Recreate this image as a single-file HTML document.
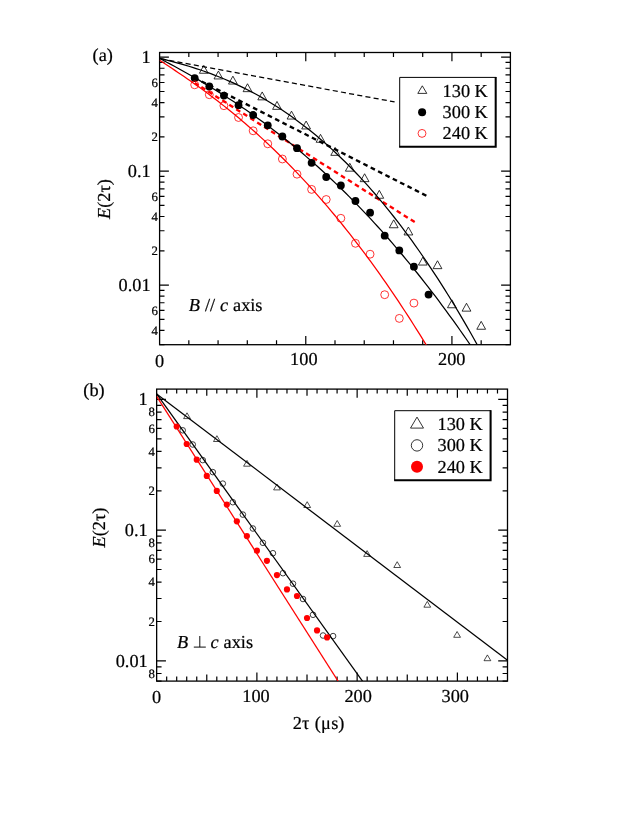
<!DOCTYPE html>
<html><head><meta charset="utf-8"><title>Figure</title>
<style>
html,body{margin:0;padding:0;background:#fff;}
body{width:631px;height:817px;overflow:hidden;}
svg{display:block;will-change:transform;}
text{font-family:"Liberation Serif",serif;fill:#000;text-rendering:geometricPrecision;stroke:#000;stroke-width:0.22px;}
</style></head><body>
<svg width="631" height="817" viewBox="0 0 631 817">
<rect width="631" height="817" fill="#fff"/>
<clipPath id="ca"><rect x="159.6" y="52.5" width="350.79999999999995" height="292.2"/></clipPath>
<clipPath id="cb"><rect x="156.65" y="389.1" width="350.85" height="292.0"/></clipPath>
<rect x="159.60" y="52.50" width="350.80" height="292.20" fill="none" stroke="#000" stroke-width="1.3"/>
<path d="M188.83 344.70v-4.5M188.83 52.50v4.5M218.07 344.70v-4.5M218.07 52.50v4.5M247.30 344.70v-4.5M247.30 52.50v4.5M276.53 344.70v-4.5M276.53 52.50v4.5M305.77 344.70v-8.7M305.77 52.50v8.7M335.00 344.70v-4.5M335.00 52.50v4.5M364.23 344.70v-4.5M364.23 52.50v4.5M393.47 344.70v-4.5M393.47 52.50v4.5M422.70 344.70v-4.5M422.70 52.50v4.5M451.93 344.70v-8.7M451.93 52.50v8.7M481.17 344.70v-4.5M481.17 52.50v4.5M159.60 57.22h9.3M510.40 57.22h-9.3M159.60 171.17h9.3M510.40 171.17h-9.3M159.60 136.86h4.9M510.40 136.86h-4.9M159.60 116.80h4.9M510.40 116.80h-4.9M159.60 102.56h4.9M510.40 102.56h-4.9M159.60 91.52h4.9M510.40 91.52h-4.9M159.60 82.50h4.9M510.40 82.50h-4.9M159.60 74.87h4.9M510.40 74.87h-4.9M159.60 68.26h4.9M510.40 68.26h-4.9M159.60 62.43h4.9M510.40 62.43h-4.9M159.60 285.12h9.3M510.40 285.12h-9.3M159.60 250.82h4.9M510.40 250.82h-4.9M159.60 230.75h4.9M510.40 230.75h-4.9M159.60 216.51h4.9M510.40 216.51h-4.9M159.60 205.47h4.9M510.40 205.47h-4.9M159.60 196.45h4.9M510.40 196.45h-4.9M159.60 188.82h4.9M510.40 188.82h-4.9M159.60 182.21h4.9M510.40 182.21h-4.9M159.60 176.38h4.9M510.40 176.38h-4.9M159.60 344.70h4.9M510.40 344.70h-4.9M159.60 330.46h4.9M510.40 330.46h-4.9M159.60 319.42h4.9M510.40 319.42h-4.9M159.60 310.40h4.9M510.40 310.40h-4.9M159.60 302.77h4.9M510.40 302.77h-4.9M159.60 296.16h4.9M510.40 296.16h-4.9M159.60 290.33h4.9M510.40 290.33h-4.9" stroke="#000" stroke-width="1.2" fill="none"/>
<text x="150.60" y="63.12" font-size="18.3" text-anchor="end" >1</text>
<text x="150.60" y="177.07" font-size="18.3" text-anchor="end" >0.1</text>
<text x="150.60" y="291.02" font-size="18.3" text-anchor="end" >0.01</text>
<text x="157.80" y="86.70" font-size="12.8" text-anchor="end" >6</text>
<text x="157.80" y="106.76" font-size="12.8" text-anchor="end" >4</text>
<text x="157.80" y="141.06" font-size="12.8" text-anchor="end" >2</text>
<text x="157.80" y="200.65" font-size="12.8" text-anchor="end" >6</text>
<text x="157.80" y="220.71" font-size="12.8" text-anchor="end" >4</text>
<text x="157.80" y="255.02" font-size="12.8" text-anchor="end" >2</text>
<text x="157.80" y="314.60" font-size="12.8" text-anchor="end" >6</text>
<text x="157.80" y="334.66" font-size="12.8" text-anchor="end" >4</text>
<text x="155.10" y="366.70" font-size="18.3" text-anchor="start" >0</text>
<text x="290.10" y="364.70" font-size="18.3" text-anchor="start" >100</text>
<text x="438.00" y="364.70" font-size="18.3" text-anchor="start" >200</text>
<path d="M159.6 58.6L394.6 101.9" fill="none" stroke="#000" stroke-width="1.25" stroke-dasharray="5.1 3.21" stroke-dashoffset="6.78"/>
<path d="M194.8 78.0L426.6 195.9" fill="none" stroke="#000" stroke-width="2.35" stroke-dasharray="4.7 3.55" stroke-dashoffset="0.65"/>
<path d="M194.8 82.9L414.9 222.2" fill="none" stroke="#ff0000" stroke-width="2.35" stroke-dasharray="4.7 3.56" stroke-dashoffset="0.5"/>
<path d="M159.60 58.31L163.26 59.22L166.91 60.15L170.57 61.10L174.22 62.07L177.88 63.07L181.54 64.10L185.19 65.17L188.85 66.26L192.51 67.40L196.16 68.57L199.82 69.78L203.47 71.03L207.13 72.33L210.79 73.67L214.44 75.05L218.10 76.48L221.76 77.96L225.41 79.48L229.07 81.06L232.72 82.68L236.38 84.36L240.04 86.09L243.69 87.87L247.35 89.71L251.00 91.60L254.66 93.55L258.32 95.56L261.97 97.62L265.63 99.75L269.29 101.93L272.94 104.17L276.60 106.48L280.25 108.84L283.91 111.27L287.57 113.76L291.22 116.32L294.88 118.94L298.53 121.63L302.19 124.38L305.85 127.20L309.50 130.09L313.16 133.04L316.82 136.06L320.47 139.16L324.13 142.32L327.78 145.55L331.44 148.86L335.10 152.24L338.75 155.69L342.41 159.21L346.07 162.80L349.72 166.47L353.38 170.22L357.03 174.04L360.69 177.93L364.35 181.90L368.00 185.95L371.66 190.08L375.31 194.28L378.97 198.57L382.63 202.93L386.28 207.37L389.94 211.89L393.60 216.49L397.25 221.17L400.91 225.94L404.56 230.78L408.22 235.71L411.88 240.72L415.53 245.81L419.19 250.99L422.84 256.25L426.50 261.60L430.16 267.03L433.81 272.55L437.47 278.15L441.13 283.84L444.78 289.62L448.44 295.48L452.09 301.43L455.75 307.48L459.41 313.60L463.06 319.82L466.72 326.13L470.38 332.53L474.03 339.01L477.69 345.59L481.34 352.26L485.00 359.02" fill="none" stroke="#000" stroke-width="1.25" clip-path="url(#ca)"/>
<path d="M159.60 58.41L163.18 60.30L166.76 62.21L170.33 64.12L173.91 66.05L177.49 68.00L181.07 69.97L184.64 71.96L188.22 73.96L191.80 75.99L195.38 78.04L198.95 80.12L202.53 82.22L206.11 84.35L209.69 86.50L213.26 88.68L216.84 90.88L220.42 93.12L224.00 95.38L227.57 97.67L231.15 100.00L234.73 102.35L238.31 104.73L241.88 107.15L245.46 109.60L249.04 112.08L252.62 114.60L256.19 117.14L259.77 119.73L263.35 122.34L266.93 125.00L270.50 127.68L274.08 130.41L277.66 133.17L281.24 135.97L284.81 138.80L288.39 141.67L291.97 144.58L295.55 147.53L299.12 150.52L302.70 153.54L306.28 156.61L309.86 159.71L313.43 162.86L317.01 166.05L320.59 169.27L324.17 172.54L327.74 175.85L331.32 179.20L334.90 182.60L338.48 186.03L342.05 189.51L345.63 193.04L349.21 196.60L352.79 200.21L356.36 203.87L359.94 207.57L363.52 211.31L367.10 215.10L370.67 218.93L374.25 222.81L377.83 226.73L381.41 230.70L384.98 234.72L388.56 238.78L392.14 242.90L395.72 247.05L399.29 251.26L402.87 255.51L406.45 259.81L410.03 264.16L413.60 268.56L417.18 273.01L420.76 277.50L424.34 282.04L427.91 286.64L431.49 291.28L435.07 295.98L438.65 300.72L442.22 305.51L445.80 310.36L449.38 315.26L452.96 320.20L456.53 325.20L460.11 330.25L463.69 335.35L467.27 340.51L470.84 345.71L474.42 350.97L478.00 356.28" fill="none" stroke="#000" stroke-width="1.25" clip-path="url(#ca)"/>
<path d="M159.60 60.33L162.66 62.32L165.72 64.31L168.78 66.32L171.84 68.34L174.90 70.37L177.96 72.43L181.02 74.50L184.09 76.59L187.15 78.70L190.21 80.83L193.27 82.98L196.33 85.16L199.39 87.36L202.45 89.58L205.51 91.83L208.57 94.10L211.63 96.40L214.69 98.73L217.75 101.08L220.81 103.46L223.87 105.87L226.93 108.30L230.00 110.77L233.06 113.26L236.12 115.78L239.18 118.34L242.24 120.92L245.30 123.54L248.36 126.18L251.42 128.86L254.48 131.57L257.54 134.32L260.60 137.10L263.66 139.91L266.72 142.75L269.78 145.63L272.84 148.54L275.91 151.49L278.97 154.47L282.03 157.49L285.09 160.54L288.15 163.63L291.21 166.76L294.27 169.92L297.33 173.12L300.39 176.36L303.45 179.63L306.51 182.94L309.57 186.29L312.63 189.68L315.69 193.11L318.76 196.58L321.82 200.08L324.88 203.63L327.94 207.21L331.00 210.84L334.06 214.50L337.12 218.21L340.18 221.95L343.24 225.74L346.30 229.57L349.36 233.44L352.42 237.35L355.48 241.31L358.54 245.30L361.60 249.34L364.67 253.43L367.73 257.55L370.79 261.72L373.85 265.93L376.91 270.18L379.97 274.48L383.03 278.83L386.09 283.21L389.15 287.64L392.21 292.12L395.27 296.64L398.33 301.21L401.39 305.82L404.45 310.48L407.51 315.18L410.58 319.93L413.64 324.72L416.70 329.56L419.76 334.45L422.82 339.39L425.88 344.37L428.94 349.40L432.00 354.47" fill="none" stroke="#ff0000" stroke-width="1.25" clip-path="url(#ca)"/>
<path d="M203.80 65.35L208.20 73.25L199.40 73.25Z" fill="none" stroke="#000" stroke-width="0.8" stroke-linejoin="miter"/>
<path d="M218.40 71.05L222.80 78.95L214.00 78.95Z" fill="none" stroke="#000" stroke-width="0.8" stroke-linejoin="miter"/>
<path d="M232.90 76.15L237.30 84.05L228.50 84.05Z" fill="none" stroke="#000" stroke-width="0.8" stroke-linejoin="miter"/>
<path d="M247.50 83.75L251.90 91.65L243.10 91.65Z" fill="none" stroke="#000" stroke-width="0.8" stroke-linejoin="miter"/>
<path d="M262.20 91.95L266.60 99.85L257.80 99.85Z" fill="none" stroke="#000" stroke-width="0.8" stroke-linejoin="miter"/>
<path d="M277.00 101.45L281.40 109.35L272.60 109.35Z" fill="none" stroke="#000" stroke-width="0.8" stroke-linejoin="miter"/>
<path d="M291.50 111.15L295.90 119.05L287.10 119.05Z" fill="none" stroke="#000" stroke-width="0.8" stroke-linejoin="miter"/>
<path d="M306.10 121.05L310.50 128.95L301.70 128.95Z" fill="none" stroke="#000" stroke-width="0.8" stroke-linejoin="miter"/>
<path d="M320.50 134.35L324.90 142.25L316.10 142.25Z" fill="none" stroke="#000" stroke-width="0.8" stroke-linejoin="miter"/>
<path d="M335.20 147.45L339.60 155.35L330.80 155.35Z" fill="none" stroke="#000" stroke-width="0.8" stroke-linejoin="miter"/>
<path d="M349.80 163.25L354.20 171.15L345.40 171.15Z" fill="none" stroke="#000" stroke-width="0.8" stroke-linejoin="miter"/>
<path d="M364.60 173.75L369.00 181.65L360.20 181.65Z" fill="none" stroke="#000" stroke-width="0.8" stroke-linejoin="miter"/>
<path d="M379.30 190.35L383.70 198.25L374.90 198.25Z" fill="none" stroke="#000" stroke-width="0.8" stroke-linejoin="miter"/>
<path d="M393.70 219.85L398.10 227.75L389.30 227.75Z" fill="none" stroke="#000" stroke-width="0.8" stroke-linejoin="miter"/>
<path d="M408.40 227.05L412.80 234.95L404.00 234.95Z" fill="none" stroke="#000" stroke-width="0.8" stroke-linejoin="miter"/>
<path d="M422.80 257.15L427.20 265.05L418.40 265.05Z" fill="none" stroke="#000" stroke-width="0.8" stroke-linejoin="miter"/>
<path d="M437.50 260.75L441.90 268.65L433.10 268.65Z" fill="none" stroke="#000" stroke-width="0.8" stroke-linejoin="miter"/>
<path d="M451.90 299.85L456.30 307.75L447.50 307.75Z" fill="none" stroke="#000" stroke-width="0.8" stroke-linejoin="miter"/>
<path d="M466.50 303.25L470.90 311.15L462.10 311.15Z" fill="none" stroke="#000" stroke-width="0.8" stroke-linejoin="miter"/>
<path d="M481.20 321.35L485.60 329.25L476.80 329.25Z" fill="none" stroke="#000" stroke-width="0.8" stroke-linejoin="miter"/>
<circle cx="194.68" cy="78.10" r="3.90" fill="#000" stroke="none" stroke-width="0.9"/>
<circle cx="209.30" cy="86.50" r="3.90" fill="#000" stroke="none" stroke-width="0.9"/>
<circle cx="223.91" cy="95.60" r="3.90" fill="#000" stroke="none" stroke-width="0.9"/>
<circle cx="238.53" cy="105.20" r="3.90" fill="#000" stroke="none" stroke-width="0.9"/>
<circle cx="253.15" cy="115.00" r="3.90" fill="#000" stroke="none" stroke-width="0.9"/>
<circle cx="267.76" cy="125.30" r="3.90" fill="#000" stroke="none" stroke-width="0.9"/>
<circle cx="282.38" cy="136.50" r="3.90" fill="#000" stroke="none" stroke-width="0.9"/>
<circle cx="297.00" cy="148.20" r="3.90" fill="#000" stroke="none" stroke-width="0.9"/>
<circle cx="311.61" cy="162.80" r="3.90" fill="#000" stroke="none" stroke-width="0.9"/>
<circle cx="326.23" cy="177.00" r="3.90" fill="#000" stroke="none" stroke-width="0.9"/>
<circle cx="340.85" cy="185.50" r="3.90" fill="#000" stroke="none" stroke-width="0.9"/>
<circle cx="355.46" cy="201.00" r="3.90" fill="#000" stroke="none" stroke-width="0.9"/>
<circle cx="370.08" cy="212.70" r="3.90" fill="#000" stroke="none" stroke-width="0.9"/>
<circle cx="384.70" cy="235.70" r="3.90" fill="#000" stroke="none" stroke-width="0.9"/>
<circle cx="399.31" cy="250.40" r="3.90" fill="#000" stroke="none" stroke-width="0.9"/>
<circle cx="413.93" cy="266.70" r="3.90" fill="#000" stroke="none" stroke-width="0.9"/>
<circle cx="428.55" cy="294.60" r="3.90" fill="#000" stroke="none" stroke-width="0.9"/>
<circle cx="194.68" cy="84.80" r="3.95" fill="none" stroke="#ff0000" stroke-width="0.8"/>
<circle cx="209.30" cy="94.70" r="3.95" fill="none" stroke="#ff0000" stroke-width="0.8"/>
<circle cx="223.91" cy="105.70" r="3.95" fill="none" stroke="#ff0000" stroke-width="0.8"/>
<circle cx="238.53" cy="117.50" r="3.95" fill="none" stroke="#ff0000" stroke-width="0.8"/>
<circle cx="253.15" cy="130.80" r="3.95" fill="none" stroke="#ff0000" stroke-width="0.8"/>
<circle cx="267.76" cy="143.80" r="3.95" fill="none" stroke="#ff0000" stroke-width="0.8"/>
<circle cx="282.38" cy="159.00" r="3.95" fill="none" stroke="#ff0000" stroke-width="0.8"/>
<circle cx="297.00" cy="174.20" r="3.95" fill="none" stroke="#ff0000" stroke-width="0.8"/>
<circle cx="311.61" cy="189.40" r="3.95" fill="none" stroke="#ff0000" stroke-width="0.8"/>
<circle cx="326.23" cy="199.50" r="3.95" fill="none" stroke="#ff0000" stroke-width="0.8"/>
<circle cx="340.85" cy="218.30" r="3.95" fill="none" stroke="#ff0000" stroke-width="0.8"/>
<circle cx="355.46" cy="243.30" r="3.95" fill="none" stroke="#ff0000" stroke-width="0.8"/>
<circle cx="370.08" cy="254.20" r="3.95" fill="none" stroke="#ff0000" stroke-width="0.8"/>
<circle cx="384.70" cy="294.70" r="3.95" fill="none" stroke="#ff0000" stroke-width="0.8"/>
<circle cx="399.31" cy="318.40" r="3.95" fill="none" stroke="#ff0000" stroke-width="0.8"/>
<circle cx="413.93" cy="303.10" r="3.95" fill="none" stroke="#ff0000" stroke-width="0.8"/>
<rect x="399.7" y="77.4" width="96.0" height="69.4" fill="#fff"/>
<path d="M399.7 147.3V77.4H496.2" fill="none" stroke="#000" stroke-width="1"/>
<path d="M399.2 146.8H496.7M495.7 76.9V146.8" fill="none" stroke="#000" stroke-width="2.05"/>
<path d="M422.30 85.80L426.80 93.40L417.80 93.40Z" fill="none" stroke="#000" stroke-width="0.8" stroke-linejoin="miter"/>
<circle cx="422.10" cy="112.30" r="4.00" fill="#000" stroke="none" stroke-width="0.9"/>
<circle cx="422.00" cy="133.40" r="3.95" fill="none" stroke="#ff0000" stroke-width="0.8"/>
<text x="442.60" y="96.60" font-size="18.3" text-anchor="start" >130 K</text>
<text x="442.60" y="117.75" font-size="18.3" text-anchor="start" >300 K</text>
<text x="442.60" y="138.90" font-size="18.3" text-anchor="start" >240 K</text>
<text x="92.60" y="60.70" font-size="18.3" text-anchor="start" >(a)</text>
<text x="188.80" y="311.10" font-size="18.3" text-anchor="start" word-spacing="0.35"><tspan font-style="italic">B</tspan> // <tspan font-style="italic">c</tspan> axis</text>
<text transform="translate(109.7,199) rotate(-90)" font-size="18.3" text-anchor="middle"><tspan font-style="italic">E</tspan>(2τ)</text>
<rect x="156.65" y="389.10" width="350.85" height="292.00" fill="none" stroke="#000" stroke-width="1.3"/>
<path d="M166.67 681.10v-4.5M166.67 389.10v4.5M176.70 681.10v-4.5M176.70 389.10v4.5M186.72 681.10v-4.5M186.72 389.10v4.5M196.75 681.10v-4.5M196.75 389.10v4.5M206.77 681.10v-6.6M206.77 389.10v6.6M216.80 681.10v-4.5M216.80 389.10v4.5M226.82 681.10v-4.5M226.82 389.10v4.5M236.84 681.10v-4.5M236.84 389.10v4.5M246.87 681.10v-4.5M246.87 389.10v4.5M256.89 681.10v-8.7M256.89 389.10v8.7M266.92 681.10v-4.5M266.92 389.10v4.5M276.94 681.10v-4.5M276.94 389.10v4.5M286.97 681.10v-4.5M286.97 389.10v4.5M296.99 681.10v-4.5M296.99 389.10v4.5M307.01 681.10v-6.6M307.01 389.10v6.6M317.04 681.10v-4.5M317.04 389.10v4.5M327.06 681.10v-4.5M327.06 389.10v4.5M337.09 681.10v-4.5M337.09 389.10v4.5M347.11 681.10v-4.5M347.11 389.10v4.5M357.14 681.10v-8.7M357.14 389.10v8.7M367.16 681.10v-4.5M367.16 389.10v4.5M377.18 681.10v-4.5M377.18 389.10v4.5M387.21 681.10v-4.5M387.21 389.10v4.5M397.23 681.10v-4.5M397.23 389.10v4.5M407.26 681.10v-6.6M407.26 389.10v6.6M417.28 681.10v-4.5M417.28 389.10v4.5M427.31 681.10v-4.5M427.31 389.10v4.5M437.33 681.10v-4.5M437.33 389.10v4.5M447.35 681.10v-4.5M447.35 389.10v4.5M457.38 681.10v-8.7M457.38 389.10v8.7M467.40 681.10v-4.5M467.40 389.10v4.5M477.43 681.10v-4.5M477.43 389.10v4.5M487.45 681.10v-4.5M487.45 389.10v4.5M497.48 681.10v-4.5M497.48 389.10v4.5M156.65 399.45h9.3M507.50 399.45h-9.3M156.65 530.15h9.3M507.50 530.15h-9.3M156.65 490.81h4.9M507.50 490.81h-4.9M156.65 467.79h4.9M507.50 467.79h-4.9M156.65 451.46h4.9M507.50 451.46h-4.9M156.65 438.79h4.9M507.50 438.79h-4.9M156.65 428.45h4.9M507.50 428.45h-4.9M156.65 419.70h4.9M507.50 419.70h-4.9M156.65 412.12h4.9M507.50 412.12h-4.9M156.65 405.43h4.9M507.50 405.43h-4.9M156.65 660.85h9.3M507.50 660.85h-9.3M156.65 621.51h4.9M507.50 621.51h-4.9M156.65 598.49h4.9M507.50 598.49h-4.9M156.65 582.16h4.9M507.50 582.16h-4.9M156.65 569.50h4.9M507.50 569.50h-4.9M156.65 559.15h4.9M507.50 559.15h-4.9M156.65 550.40h4.9M507.50 550.40h-4.9M156.65 542.82h4.9M507.50 542.82h-4.9M156.65 536.13h4.9M507.50 536.13h-4.9M156.65 681.10h4.9M507.50 681.10h-4.9M156.65 673.52h4.9M507.50 673.52h-4.9M156.65 666.83h4.9M507.50 666.83h-4.9" stroke="#000" stroke-width="1.2" fill="none"/>
<text x="147.70" y="405.35" font-size="18.3" text-anchor="end" >1</text>
<text x="147.70" y="536.05" font-size="18.3" text-anchor="end" >0.1</text>
<text x="147.70" y="666.75" font-size="18.3" text-anchor="end" >0.01</text>
<text x="155.00" y="416.32" font-size="12.8" text-anchor="end" >8</text>
<text x="155.00" y="432.65" font-size="12.8" text-anchor="end" >6</text>
<text x="155.00" y="455.66" font-size="12.8" text-anchor="end" >4</text>
<text x="155.00" y="495.01" font-size="12.8" text-anchor="end" >2</text>
<text x="155.00" y="547.02" font-size="12.8" text-anchor="end" >8</text>
<text x="155.00" y="563.35" font-size="12.8" text-anchor="end" >6</text>
<text x="155.00" y="586.36" font-size="12.8" text-anchor="end" >4</text>
<text x="155.00" y="625.71" font-size="12.8" text-anchor="end" >2</text>
<text x="155.00" y="677.72" font-size="12.8" text-anchor="end" >8</text>
<text x="152.10" y="703.00" font-size="18.3" text-anchor="start" >0</text>
<text x="242.30" y="702.40" font-size="18.3" text-anchor="start" >100</text>
<text x="344.40" y="702.40" font-size="18.3" text-anchor="start" >200</text>
<text x="441.50" y="702.40" font-size="18.3" text-anchor="start" >300</text>
<path d="M156.65 393.90L507.50 660.30" fill="none" stroke="#000" stroke-width="1.25" clip-path="url(#cb)"/>
<path d="M156.65 393.90L456.65 812.55" fill="none" stroke="#000" stroke-width="1.25" clip-path="url(#cb)"/>
<path d="M156.65 396.30L456.65 867.30" fill="none" stroke="#ff0000" stroke-width="1.25" clip-path="url(#cb)"/>
<path d="M187.00 412.80L190.40 418.60L183.60 418.60Z" fill="none" stroke="#000" stroke-width="0.7" stroke-linejoin="miter"/>
<path d="M216.90 435.70L220.30 441.50L213.50 441.50Z" fill="none" stroke="#000" stroke-width="0.7" stroke-linejoin="miter"/>
<path d="M247.00 460.40L250.40 466.20L243.60 466.20Z" fill="none" stroke="#000" stroke-width="0.7" stroke-linejoin="miter"/>
<path d="M277.00 484.10L280.40 489.90L273.60 489.90Z" fill="none" stroke="#000" stroke-width="0.7" stroke-linejoin="miter"/>
<path d="M307.20 501.70L310.60 507.50L303.80 507.50Z" fill="none" stroke="#000" stroke-width="0.7" stroke-linejoin="miter"/>
<path d="M337.20 520.50L340.60 526.30L333.80 526.30Z" fill="none" stroke="#000" stroke-width="0.7" stroke-linejoin="miter"/>
<path d="M367.10 550.60L370.50 556.40L363.70 556.40Z" fill="none" stroke="#000" stroke-width="0.7" stroke-linejoin="miter"/>
<path d="M397.20 561.70L400.60 567.50L393.80 567.50Z" fill="none" stroke="#000" stroke-width="0.7" stroke-linejoin="miter"/>
<path d="M427.30 601.40L430.70 607.20L423.90 607.20Z" fill="none" stroke="#000" stroke-width="0.7" stroke-linejoin="miter"/>
<path d="M457.10 631.50L460.50 637.30L453.70 637.30Z" fill="none" stroke="#000" stroke-width="0.7" stroke-linejoin="miter"/>
<path d="M487.40 654.90L490.80 660.70L484.00 660.70Z" fill="none" stroke="#000" stroke-width="0.7" stroke-linejoin="miter"/>
<circle cx="182.71" cy="430.30" r="2.80" fill="none" stroke="#000" stroke-width="0.75"/>
<circle cx="192.74" cy="444.50" r="2.80" fill="none" stroke="#000" stroke-width="0.75"/>
<circle cx="202.76" cy="460.10" r="2.80" fill="none" stroke="#000" stroke-width="0.75"/>
<circle cx="212.79" cy="472.10" r="2.80" fill="none" stroke="#000" stroke-width="0.75"/>
<circle cx="222.81" cy="483.60" r="2.80" fill="none" stroke="#000" stroke-width="0.75"/>
<circle cx="232.83" cy="502.20" r="2.80" fill="none" stroke="#000" stroke-width="0.75"/>
<circle cx="242.86" cy="514.60" r="2.80" fill="none" stroke="#000" stroke-width="0.75"/>
<circle cx="252.88" cy="528.50" r="2.80" fill="none" stroke="#000" stroke-width="0.75"/>
<circle cx="262.91" cy="542.80" r="2.80" fill="none" stroke="#000" stroke-width="0.75"/>
<circle cx="272.93" cy="553.20" r="2.80" fill="none" stroke="#000" stroke-width="0.75"/>
<circle cx="282.96" cy="573.20" r="2.80" fill="none" stroke="#000" stroke-width="0.75"/>
<circle cx="292.98" cy="583.70" r="2.80" fill="none" stroke="#000" stroke-width="0.75"/>
<circle cx="303.00" cy="599.00" r="2.80" fill="none" stroke="#000" stroke-width="0.75"/>
<circle cx="313.03" cy="614.80" r="2.80" fill="none" stroke="#000" stroke-width="0.75"/>
<circle cx="323.05" cy="635.50" r="2.80" fill="none" stroke="#000" stroke-width="0.75"/>
<circle cx="333.08" cy="636.10" r="2.80" fill="none" stroke="#000" stroke-width="0.75"/>
<circle cx="176.70" cy="426.50" r="3.10" fill="#ff0000" stroke="none" stroke-width="0.9"/>
<circle cx="186.72" cy="444.00" r="3.10" fill="#ff0000" stroke="none" stroke-width="0.9"/>
<circle cx="196.75" cy="459.70" r="3.10" fill="#ff0000" stroke="none" stroke-width="0.9"/>
<circle cx="206.77" cy="475.90" r="3.10" fill="#ff0000" stroke="none" stroke-width="0.9"/>
<circle cx="216.80" cy="490.90" r="3.10" fill="#ff0000" stroke="none" stroke-width="0.9"/>
<circle cx="226.82" cy="504.60" r="3.10" fill="#ff0000" stroke="none" stroke-width="0.9"/>
<circle cx="236.84" cy="521.30" r="3.10" fill="#ff0000" stroke="none" stroke-width="0.9"/>
<circle cx="246.87" cy="536.10" r="3.10" fill="#ff0000" stroke="none" stroke-width="0.9"/>
<circle cx="256.89" cy="550.70" r="3.10" fill="#ff0000" stroke="none" stroke-width="0.9"/>
<circle cx="266.92" cy="560.80" r="3.10" fill="#ff0000" stroke="none" stroke-width="0.9"/>
<circle cx="276.94" cy="575.10" r="3.10" fill="#ff0000" stroke="none" stroke-width="0.9"/>
<circle cx="286.97" cy="589.40" r="3.10" fill="#ff0000" stroke="none" stroke-width="0.9"/>
<circle cx="296.99" cy="596.00" r="3.10" fill="#ff0000" stroke="none" stroke-width="0.9"/>
<circle cx="307.01" cy="618.00" r="3.10" fill="#ff0000" stroke="none" stroke-width="0.9"/>
<circle cx="317.04" cy="630.40" r="3.10" fill="#ff0000" stroke="none" stroke-width="0.9"/>
<circle cx="327.06" cy="637.40" r="3.10" fill="#ff0000" stroke="none" stroke-width="0.9"/>
<rect x="394.7" y="410.7" width="95.9" height="69.5" fill="#fff"/>
<path d="M394.7 480.7V410.7H491.1" fill="none" stroke="#000" stroke-width="1"/>
<path d="M394.2 480.2H491.6M490.6 410.2V480.2" fill="none" stroke="#000" stroke-width="2.05"/>
<path d="M417.00 417.10L423.50 428.10L410.50 428.10Z" fill="none" stroke="#000" stroke-width="0.8" stroke-linejoin="miter"/>
<circle cx="417.00" cy="445.40" r="5.70" fill="none" stroke="#000" stroke-width="0.8"/>
<circle cx="417.00" cy="466.80" r="6.00" fill="#ff0000" stroke="none" stroke-width="0.9"/>
<text x="437.50" y="429.90" font-size="18.3" text-anchor="start" >130 K</text>
<text x="437.50" y="451.20" font-size="18.3" text-anchor="start" >300 K</text>
<text x="437.50" y="472.50" font-size="18.3" text-anchor="start" >240 K</text>
<text x="83.30" y="396.40" font-size="18.3" text-anchor="start" >(b)</text>
<text x="177.00" y="647.60" font-size="18.3" text-anchor="start" font-style="italic">B</text>
<path d="M193.8 647.1H205.8M199.8 636.0V647.1" stroke="#000" stroke-width="0.95" fill="none"/>
<text x="210.60" y="647.60" font-size="18.3" text-anchor="start" font-style="italic">c</text>
<text x="223.60" y="647.60" font-size="18.3" text-anchor="start" >axis</text>
<text transform="translate(105.0,527.5) rotate(-90)" font-size="18.3" text-anchor="middle"><tspan font-style="italic">E</tspan>(2τ)</text>
<text x="292.80" y="728.50" font-size="18.3" text-anchor="start" >2τ<tspan dx="0.9"> (</tspan><tspan dx="0.1">μ</tspan><tspan dx="0.4">s</tspan>)</text>
</svg>
</body></html>
